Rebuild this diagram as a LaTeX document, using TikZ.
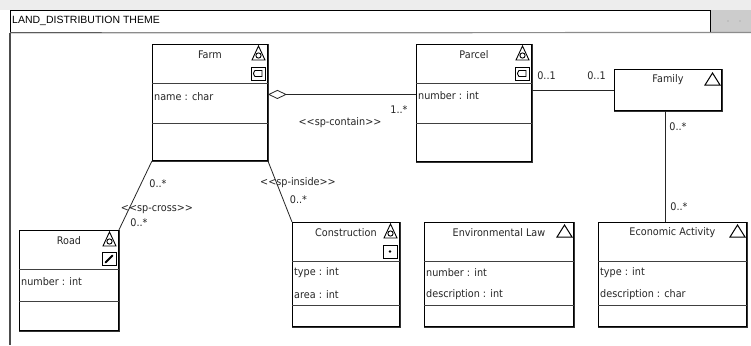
\documentclass[tikz,border=0pt]{standalone}
\usepackage{fontspec}
\usetikzlibrary{arrows.meta}
\newfontfamily\umlfont{DejaVu Sans}[FakeStretch=0.92]
\newfontfamily\hdrfont{Liberation Sans}
\tikzset{
  cls/.style={draw=black, line width=0.9pt, fill=white, inner sep=0pt, anchor=north west},
  lbl/.style={font=\umlfont\fontsize{10.5}{12}\selectfont, text=black!85, inner sep=0pt},
  attr/.style={lbl, anchor=west},
  sepline/.style={draw=black!75, line width=0.8pt},
  conn/.style={draw=black!85, line width=0.8pt},
  iconline/.style={draw=black, line width=0.9pt},
}
\newcommand\mkclass[6]{% name, x, y, w, h, title
  \node[cls, minimum width=#4pt, minimum height=#5pt] (#1) at (#2,#3) {};
  \draw[black!80, line width=1.3pt] ([shift={(0.6pt,0pt)}]#1.north east) -- ([shift={(0.6pt,-0.6pt)}]#1.south east) -- ([shift={(0pt,-0.6pt)}]#1.south west);
  \node[lbl] (#1-t) at ([yshift=-10.5pt]#1.north) {#6};
}
\newcommand\spicon[2]{% spatial triangle icon, top-left x,y
  \draw[iconline] (#1+6.5,#2) -- (#1,#2+14) -- (#1+13,#2+14) -- cycle;
  \draw[iconline] (#1+6.5,#2+9.5) circle (2.6pt);
}
\newcommand\plainicon[2]{%
  \draw[iconline, line width=1pt] (#1+7.5,#2) -- (#1,#2+12) -- (#1+15,#2+12) -- cycle;
}
\newcommand\sqbox[2]{%
  \draw[iconline] (#1,#2) rectangle (#1+14,#2+13);
}
\begin{document}
\begin{tikzpicture}[x=1pt,y=-1pt]
\useasboundingbox (0,0) rectangle (751,345);
\fill[white] (0,0) rectangle (751,345);
\fill[black!7] (0,0) rectangle (751,10);
% header
\node[draw=black, line width=0.9pt, fill=white, inner sep=0pt, anchor=north west, minimum width=700pt, minimum height=22pt] (hdr) at (10,10) {};
\node[font=\hdrfont\fontsize{10.5}{12}\selectfont, anchor=west, inner sep=0pt] (hdrtxt) at (12,21) {LAND\_DISTRIBUTION THEME};
\fill[black!20] (711,10) rectangle (751,32);
\fill[black!30] (728,21) circle (0.8pt) (740,21) circle (0.8pt);
\draw[black!45, line width=1.2pt] (hdr.south west) -- (751,32.5);
\draw[black!70, line width=1.2pt] (hdr.south west) -- (10,345);

% classes
\mkclass{farm}{152}{44}{115}{116}{Farm}
\mkclass{parcel}{416}{44}{115}{117}{Parcel}
\mkclass{family}{614}{69}{107}{41}{Family}
\mkclass{road}{19}{230}{99}{100}{Road}
\mkclass{constr}{292}{222}{107}{104}{Construction}
\mkclass{envlaw}{424}{222}{149}{104}{Environmental Law}
\mkclass{econ}{598}{222}{148}{104}{Economic Activity}

% compartments
\draw[sepline] (farm.west |- 0,83) -- (farm.east |- 0,83);
\draw[sepline] (farm.west |- 0,123) -- (farm.east |- 0,123);
\draw[sepline] (parcel.west |- 0,83) -- (parcel.east |- 0,83);
\draw[sepline] (parcel.west |- 0,123) -- (parcel.east |- 0,123);
\draw[sepline] (road.west |- 0,269) -- (road.east |- 0,269);
\draw[sepline] (road.west |- 0,301) -- (road.east |- 0,301);
\foreach \c in {constr,envlaw,econ}{
  \draw[sepline] (\c.west |- 0,261) -- (\c.east |- 0,261);
  \draw[sepline] (\c.west |- 0,305) -- (\c.east |- 0,305);
}

% attributes
\node[attr] (farm-a1) at (154,97) {name : char};
\node[attr] (parcel-a1) at (418,96) {number : int};
\node[attr] (road-a1) at (21,282) {number : int};
\node[attr] (constr-a1) at (294,273) {type : int};
\node[attr] (constr-a2) at (294,295) {area : int};
\node[attr] (envlaw-a1) at (426,273) {number : int};
\node[attr] (envlaw-a2) at (426,295) {description : int};
\node[attr] (econ-a1) at (600,273) {type : int};
\node[attr] (econ-a2) at (600,295) {description : char};

% icons
\spicon{252}{46}
\sqbox{251}{67}
\draw[iconline] (262,70.5) -- (255,70.5) .. controls (253,73.5) .. (255,76.5) -- (262,76.5) -- cycle;
\spicon{516}{46}
\sqbox{515}{67}
\draw[iconline] (526,70.5) -- (519,70.5) .. controls (517,73.5) .. (519,76.5) -- (526,76.5) -- cycle;
\plainicon{705}{73}
\spicon{103}{232}
\sqbox{102}{252}
\draw[black, line width=2pt, line cap=round] (105.5,262.5) -- (112.5,255.5);
\spicon{384}{224}
\sqbox{383}{245}
\fill[black] (390,251.5) circle (1.4pt);
\plainicon{557}{225}
\plainicon{730}{225}

% connectors
\draw[conn, {Diamond[open, length=19pt, width=9pt, line width=0.8pt]}-] ([yshift=8pt]farm.east) -- ([yshift=8.5pt]parcel.west);
\node[lbl] (l1) at (399,110) {1..*};
\node[lbl] (l2) at (340,122.5) {<<sp-contain>>};

\draw[conn] (parcel.east |- family.west) -- (family.west);
\node[lbl] (l3) at (546.5,76) {0..1};
\node[lbl] (l4) at (596.5,76) {0..1};

\draw[conn] ([xshift=-3pt]family.south) -- ([xshift=-7.5pt]econ.north);
\node[lbl] (l5) at (678,127) {0..*};
\node[lbl] (l6) at (679,207) {0..*};

\draw[conn] (farm.south west) -- (road.north east);
\node[lbl] (l7) at (158,184) {0..*};
\node[lbl] (l8) at (157,210) {<<sp-cross>>};
\node[lbl] (l9) at (139,223) {0..*};

\draw[conn] (farm.south east) -- (constr.north west);
\node[lbl] (l10) at (298,183) {<<sp-inside>>};
\node[lbl] (l11) at (298.5,200) {0..*};
\end{tikzpicture}
\end{document}
